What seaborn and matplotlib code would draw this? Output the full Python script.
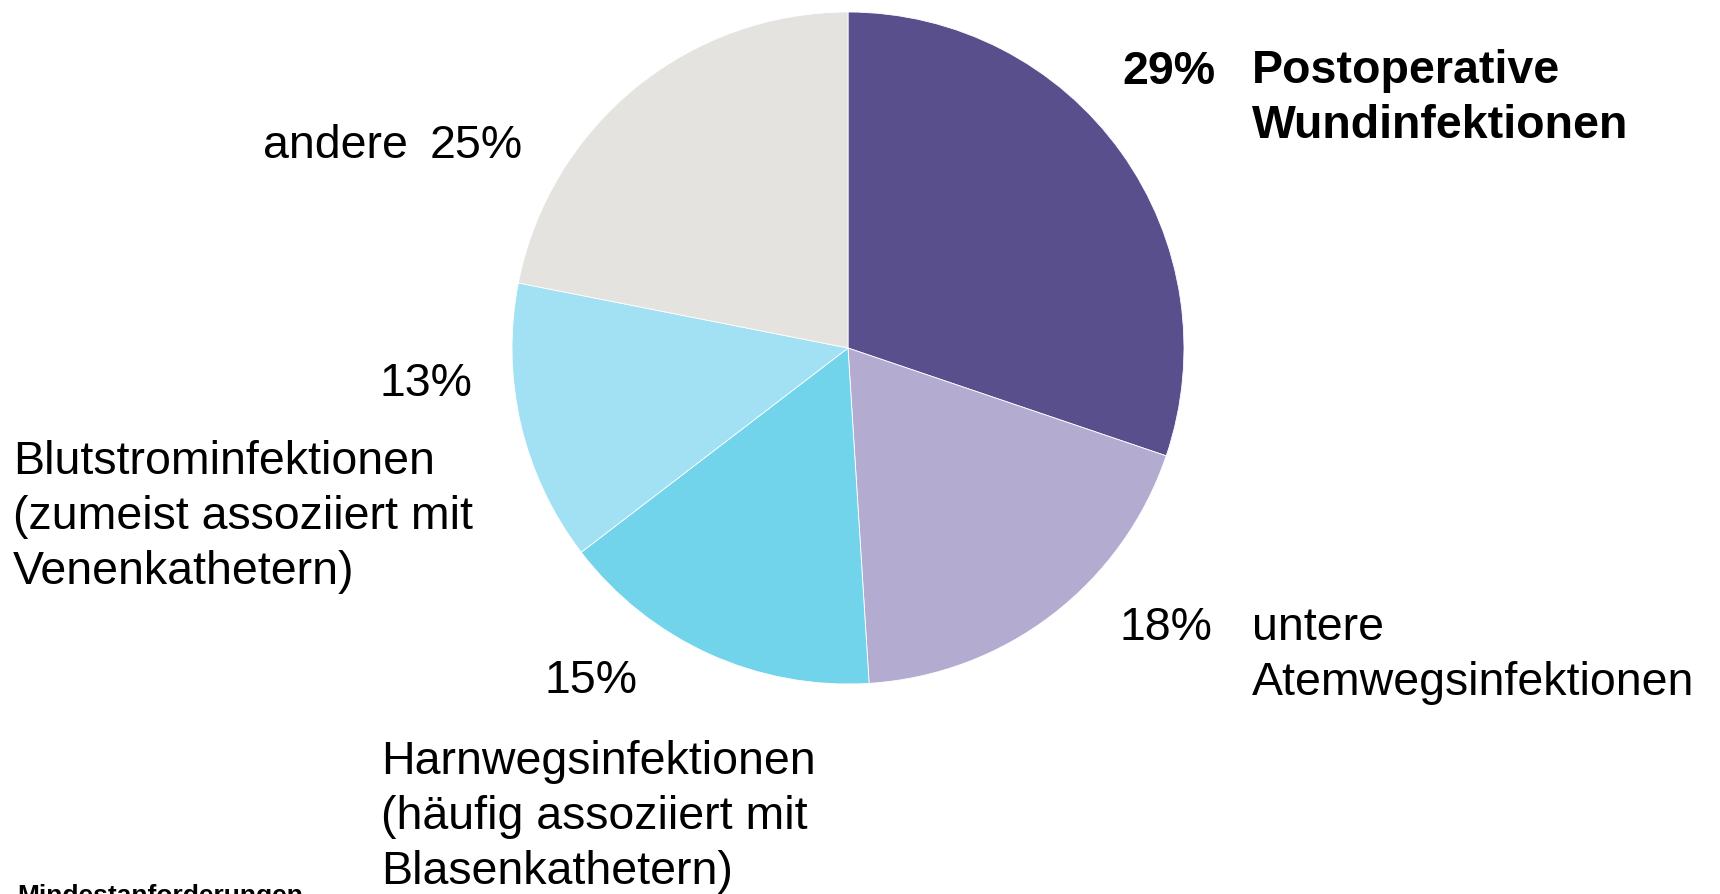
import matplotlib
matplotlib.use("Agg")
import matplotlib.pyplot as plt
import seaborn as sns

# slice shares as drawn, clockwise from 12 o'clock
shares = [30.2, 18.8, 15.6, 13.5, 21.9]
# percentages as printed on the chart
pct_labels = ["29%", "18%", "15%", "13%", "25%"]
categories = [
    "Postoperative\nWundinfektionen",
    "untere\nAtemwegsinfektionen",
    "Harnwegsinfektionen\n(häufig assoziiert mit\nBlasenkathetern)",
    "Blutstrominfektionen\n(zumeist assoziiert mit\nVenenkathetern)",
    "andere",
]
colors = ["#594F8C", "#B3ACD0", "#71D4EB", "#A2E1F3", "#E4E3DF"]

sns.set_theme(style="white")
plt.rcParams["font.family"] = ["Liberation Sans", "DejaVu Sans"]
plt.rcParams["text.color"] = "black"

W, H = 1720, 895
fig = plt.figure(figsize=(W / 100, H / 100), dpi=100)
ax = fig.add_axes([0, 0, 1, 1])

ax.pie(shares, colors=colors, startangle=90, counterclock=False,
       center=(848, H - 349), radius=336,
       wedgeprops=dict(edgecolor="white", linewidth=0.6))
ax.set_xlim(0, W)
ax.set_ylim(0, H)
ax.axis("off")

fs = 33.5
ls = 1.33

def y(v):
    return H - v

# Postoperative (bold)
ax.text(1216, y(72), pct_labels[0], fontsize=fs, fontweight="bold",
        ha="right", va="center")
ax.text(1252, y(49), categories[0], fontsize=fs, fontweight="bold",
        ha="left", va="top", linespacing=ls)

# untere Atemwegsinfektionen
ax.text(1212, y(628), pct_labels[1], fontsize=fs, ha="right", va="center")
ax.text(1252, y(606), categories[1], fontsize=fs, ha="left", va="top",
        linespacing=ls)

# Harnwegsinfektionen
ax.text(545, y(681), pct_labels[2], fontsize=fs, ha="left", va="center")
ax.text(381, y(740), categories[2], fontsize=fs, ha="left", va="top",
        linespacing=ls)

# Blutstrominfektionen
ax.text(472, y(384), pct_labels[3], fontsize=fs, ha="right", va="center")
ax.text(13, y(440), categories[3], fontsize=fs, ha="left", va="top",
        linespacing=ls)

# andere
ax.text(408, y(146), categories[4], fontsize=fs, ha="right", va="center")
ax.text(430, y(146), pct_labels[4], fontsize=fs, ha="left", va="center")

# footer, cut off at the bottom edge as in the source slide
ax.text(17, y(884), "Mindestanforderungen", fontsize=19, fontweight="bold",
        ha="left", va="top")

fig.savefig("out.png", dpi=100)
